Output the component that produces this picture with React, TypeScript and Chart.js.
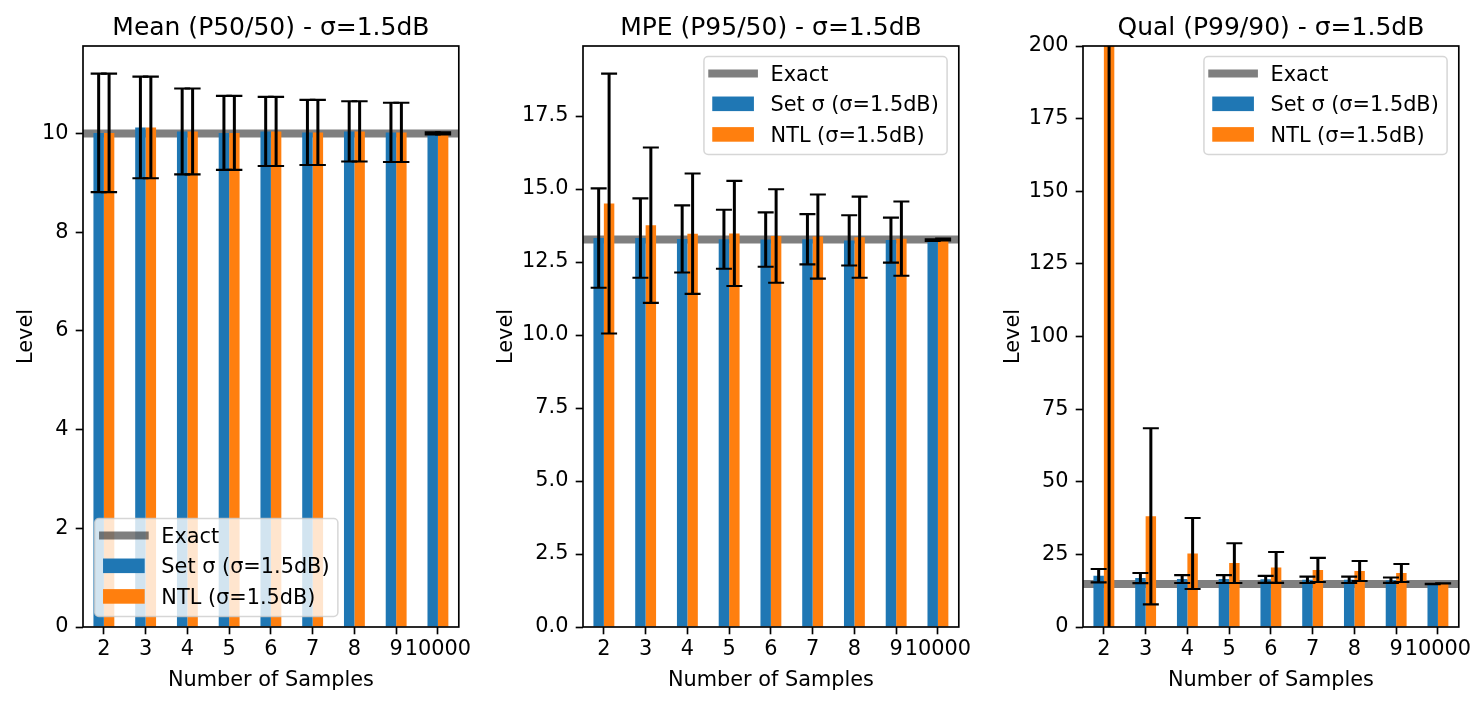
import React, { useEffect, useRef } from "react";
import { Chart, registerables } from "chart.js";

Chart.register(...registerables);

// ---- data ----
const sampleCounts = ["2", "3", "4", "5", "6", "7", "8", "9", "10000"];

// Mean (P50/50)
const meanExact = 10.0;
const meanSetSigma = [10.01, 10.12, 10.04, 10.01, 10.04, 10.02, 10.04, 10.02, 10.0];
const meanSetSigmaErr = [1.2, 1.03, 0.87, 0.75, 0.7, 0.66, 0.61, 0.6, 0.02];
const meanNtl = [10.01, 10.12, 10.04, 10.01, 10.04, 10.02, 10.04, 10.02, 10.0];
const meanNtlErr = [1.2, 1.03, 0.87, 0.75, 0.7, 0.66, 0.61, 0.6, 0.02];

// MPE (P95/50)
const mpeExact = 13.27;
const mpeSetSigma = [13.32, 13.32, 13.29, 13.28, 13.27, 13.28, 13.24, 13.25, 13.25];
const mpeSetSigmaErr = [1.7, 1.36, 1.15, 1.01, 0.93, 0.86, 0.86, 0.77, 0.03];
const mpeNtl = [14.5, 13.76, 13.47, 13.48, 13.39, 13.37, 13.35, 13.3, 13.27];
const mpeNtlErr = [4.45, 2.66, 2.06, 1.8, 1.6, 1.44, 1.39, 1.27, 0.03];

// Qual (P99/90)
const qualExact = 14.8;
const qualSetSigma = [17.65, 16.85, 16.5, 16.5, 16.4, 16.25, 16.25, 16.1, 14.8];
const qualSetSigmaErr = [2.3, 1.75, 1.37, 1.37, 1.2, 1.1, 1.1, 0.92, 0.05];
const qualNtl = [225, 38.1, 25.3, 22.0, 20.5, 19.65, 19.27, 18.6, 15.0];
const qualNtlErr = [260, 30.3, 12.2, 6.85, 5.3, 4.15, 3.43, 3.1, 0.05];

const exactLabel = "Exact";
const setSigmaLabel = "Set σ (σ=1.5dB)";
const ntlLabel = "NTL (σ=1.5dB)";
const xTitle = "Number of Samples";
const yTitle = "Level";

// ---- styling ----
const FAMILY = '"DejaVu Sans", sans-serif';
const FS = 20.83;
const TITLE_FS = 25;
const TICK_LEN = 7.3;
const TICK_PAD = 7.3;
const BLUE = "#1f77b4";
const ORANGE = "#ff7f0e";
const EXACT_COLOR = "rgba(0,0,0,0.5)";
const CANVAS_W = 1484;
const CANVAS_H = 705;

type Panel = {
  title: string;
  exact: number;
  set: number[];
  setErr: number[];
  ntl: number[];
  ntlErr: number[];
  yMax: number | null;
  yStep: number;
  decimals: number;
  legendCorner: "lower left" | "upper right";
};

const panels: Panel[] = [
  {
    title: "Mean (P50/50) - σ=1.5dB",
    exact: meanExact,
    set: meanSetSigma,
    setErr: meanSetSigmaErr,
    ntl: meanNtl,
    ntlErr: meanNtlErr,
    yMax: null,
    yStep: 2,
    decimals: 0,
    legendCorner: "lower left",
  },
  {
    title: "MPE (P95/50) - σ=1.5dB",
    exact: mpeExact,
    set: mpeSetSigma,
    setErr: mpeSetSigmaErr,
    ntl: mpeNtl,
    ntlErr: mpeNtlErr,
    yMax: null,
    yStep: 2.5,
    decimals: 1,
    legendCorner: "upper right",
  },
  {
    title: "Qual (P99/90) - σ=1.5dB",
    exact: qualExact,
    set: qualSetSigma,
    setErr: qualSetSigmaErr,
    ntl: qualNtl,
    ntlErr: qualNtlErr,
    yMax: 200,
    yStep: 25,
    decimals: 0,
    legendCorner: "upper right",
  },
];

// axes box placement for each subplot
const AXES_LEFT = 83;
const AXES_STRIDE = 500;
const AXES_WIDTH = 375.8;
const AXES_TOP = 46;
const AXES_BOTTOM = 627;

function autoMax(p: Panel): number {
  const tops = [
    ...p.set.map((v, i) => v + p.setErr[i]),
    ...p.ntl.map((v, i) => v + p.ntlErr[i]),
  ];
  return Math.max(...tops) * 1.05;
}

function roundedRect(ctx: CanvasRenderingContext2D, x: number, y: number, w: number, h: number, r: number) {
  ctx.beginPath();
  ctx.moveTo(x + r, y);
  ctx.lineTo(x + w - r, y);
  ctx.arcTo(x + w, y, x + w, y + r, r);
  ctx.lineTo(x + w, y + h - r);
  ctx.arcTo(x + w, y + h, x + w - r, y + h, r);
  ctx.lineTo(x + r, y + h);
  ctx.arcTo(x, y + h, x, y + h - r, r);
  ctx.lineTo(x, y + r);
  ctx.arcTo(x, y, x + r, y, r);
  ctx.closePath();
}

function drawLegend(ctx: CanvasRenderingContext2D, a: any, corner: string) {
  const labels = [exactLabel, setSigmaLabel, ntlLabel];
  ctx.save();
  ctx.font = `${FS}px ${FAMILY}`;
  const textW = Math.max(...labels.map((l) => ctx.measureText(l).width));
  const pad = 0.4 * FS;
  const handleLen = 2 * FS;
  const handlePad = 0.8 * FS;
  const w = 2 * pad + handleLen + handlePad + textW;
  const h = 98;
  let left: number;
  let top: number;
  if (corner === "lower left") {
    left = a.left + 11.7;
    top = a.bottom - 10.5 - h;
  } else {
    left = a.right - 11.7 - w;
    top = a.top + 10.5;
  }
  roundedRect(ctx, left, top, w, h, 4.2);
  ctx.fillStyle = "rgba(255,255,255,0.8)";
  ctx.fill();
  ctx.strokeStyle = "rgba(204,204,204,0.8)";
  ctx.lineWidth = 1.5;
  ctx.stroke();

  const x0 = left + pad;
  const tx = x0 + handleLen + handlePad;
  labels.forEach((label, i) => {
    const base = top + 24 + i * 30.6;
    if (i === 0) {
      ctx.strokeStyle = EXACT_COLOR;
      ctx.lineWidth = 8;
      ctx.lineCap = "square";
      ctx.beginPath();
      ctx.moveTo(x0, base - 6.9);
      ctx.lineTo(x0 + handleLen, base - 6.9);
      ctx.stroke();
      ctx.lineCap = "butt";
    } else {
      ctx.fillStyle = i === 1 ? BLUE : ORANGE;
      ctx.fillRect(x0, base - 0.7 * FS, handleLen, 0.7 * FS);
    }
    ctx.fillStyle = "#000";
    ctx.textAlign = "left";
    ctx.textBaseline = "alphabetic";
    ctx.fillText(label, tx, base);
  });
  ctx.restore();
}

function makeDecor(p: Panel) {
  return {
    id: "panelDecor",
    beforeDatasetsDraw(chart: any) {
      const { ctx, chartArea: a, scales } = chart;
      const y = scales.y.getPixelForValue(p.exact);
      ctx.save();
      ctx.beginPath();
      ctx.rect(a.left, a.top, a.right - a.left, a.bottom - a.top);
      ctx.clip();
      ctx.strokeStyle = EXACT_COLOR;
      ctx.lineWidth = 8;
      ctx.beginPath();
      ctx.moveTo(a.left, y);
      ctx.lineTo(a.right, y);
      ctx.stroke();
      ctx.restore();
    },
    afterDatasetsDraw(chart: any) {
      const { ctx, chartArea: a, scales } = chart;
      const ys = scales.y;
      const vals = [p.set, p.ntl];
      const errs = [p.setErr, p.ntlErr];

      // error bars
      ctx.save();
      ctx.beginPath();
      ctx.rect(a.left, a.top, a.right - a.left, a.bottom - a.top);
      ctx.clip();
      ctx.strokeStyle = "#000";
      for (let d = 0; d < 2; d++) {
        const meta = chart.getDatasetMeta(d);
        meta.data.forEach((bar: any, i: number) => {
          const x = bar.x;
          const yt = ys.getPixelForValue(vals[d][i] + errs[d][i]);
          const yb = ys.getPixelForValue(vals[d][i] - errs[d][i]);
          ctx.lineWidth = 3;
          ctx.beginPath();
          ctx.moveTo(x, yt);
          ctx.lineTo(x, yb);
          ctx.stroke();
          ctx.lineWidth = 2.1;
          ctx.beginPath();
          ctx.moveTo(x - 8, yt);
          ctx.lineTo(x + 8, yt);
          ctx.moveTo(x - 8, yb);
          ctx.lineTo(x + 8, yb);
          ctx.stroke();
        });
      }
      ctx.restore();

      // axes frame
      ctx.save();
      ctx.strokeStyle = "#000";
      ctx.lineWidth = 1.67;
      ctx.strokeRect(a.left, a.top, a.right - a.left, a.bottom - a.top);
      ctx.restore();

      drawLegend(ctx, a, p.legendCorner);

      // titles
      const cx = (a.left + a.right) / 2;
      ctx.save();
      ctx.fillStyle = "#000";
      ctx.textAlign = "center";
      ctx.textBaseline = "alphabetic";
      ctx.font = `${TITLE_FS}px ${FAMILY}`;
      ctx.fillText(p.title, cx, 35);
      ctx.font = `${FS}px ${FAMILY}`;
      ctx.fillText(xTitle, cx, 685.7);

      const labelW = Math.max(
        ...ys.ticks.map((t: any) => ctx.measureText(String(t.label)).width)
      );
      const bx = a.left - TICK_LEN - TICK_PAD - labelW - 9.6;
      ctx.translate(bx, (a.top + a.bottom) / 2);
      ctx.rotate(-Math.PI / 2);
      ctx.fillText(yTitle, 0, 0);
      ctx.restore();
    },
  };
}

function makeChart(canvas: HTMLCanvasElement, p: Panel, idx: number) {
  const left = AXES_STRIDE * idx;
  const right = CANVAS_W - (left + AXES_LEFT + AXES_WIDTH);
  const tickFont = { family: FAMILY, size: FS };
  const grid = {
    display: true,
    drawOnChartArea: false,
    drawTicks: true,
    tickLength: TICK_LEN,
    tickWidth: 1.67,
    tickColor: "#000",
    offset: false,
  };
  return new Chart(canvas, {
    type: "bar",
    data: {
      labels: sampleCounts,
      datasets: [
        {
          label: setSigmaLabel,
          data: p.set,
          backgroundColor: BLUE,
          borderWidth: 0,
          categoryPercentage: 0.5,
          barPercentage: 1,
          clip: 0,
        },
        {
          label: ntlLabel,
          data: p.ntl,
          backgroundColor: ORANGE,
          borderWidth: 0,
          categoryPercentage: 0.5,
          barPercentage: 1,
          clip: 0,
        },
      ],
    },
    options: {
      responsive: false,
      animation: false,
      events: [],
      layout: {
        padding: { left, right, top: AXES_TOP, bottom: 0 },
      },
      plugins: {
        legend: { display: false },
        title: { display: false },
        tooltip: { enabled: false },
      },
      scales: {
        x: {
          grid,
          border: { display: false },
          ticks: {
            font: tickFont,
            color: "#000",
            padding: 3,
            autoSkip: false,
            maxRotation: 0,
            minRotation: 0,
          },
          afterFit: (s: any) => {
            s.height = CANVAS_H - AXES_BOTTOM;
          },
        },
        y: {
          min: 0,
          max: p.yMax ?? autoMax(p),
          grid,
          border: { display: false },
          ticks: {
            stepSize: p.yStep,
            includeBounds: false,
            font: tickFont,
            color: "#000",
            padding: TICK_PAD,
            callback: (v: any) => Number(v).toFixed(p.decimals),
          },
          afterFit: (s: any) => {
            s.width = AXES_LEFT;
          },
        },
      },
    } as any,
    plugins: [makeDecor(p)],
  });
}

export default function App() {
  const r0 = useRef<HTMLCanvasElement>(null);
  const r1 = useRef<HTMLCanvasElement>(null);
  const r2 = useRef<HTMLCanvasElement>(null);
  const refs = [r0, r1, r2];

  useEffect(() => {
    const charts = panels.map((p, i) => makeChart(refs[i].current!, p, i));
    return () => charts.forEach((c) => c.destroy());
  }, []);

  return (
    <div
      style={{
        position: "fixed",
        left: 0,
        top: 0,
        width: CANVAS_W,
        height: CANVAS_H,
        background: "#fff",
        overflow: "hidden",
      }}
    >
      {panels.map((p, i) => (
        <canvas
          key={p.title}
          ref={refs[i]}
          width={CANVAS_W}
          height={CANVAS_H}
          style={{ position: "absolute", left: 0, top: 0 }}
        />
      ))}
    </div>
  );
}
